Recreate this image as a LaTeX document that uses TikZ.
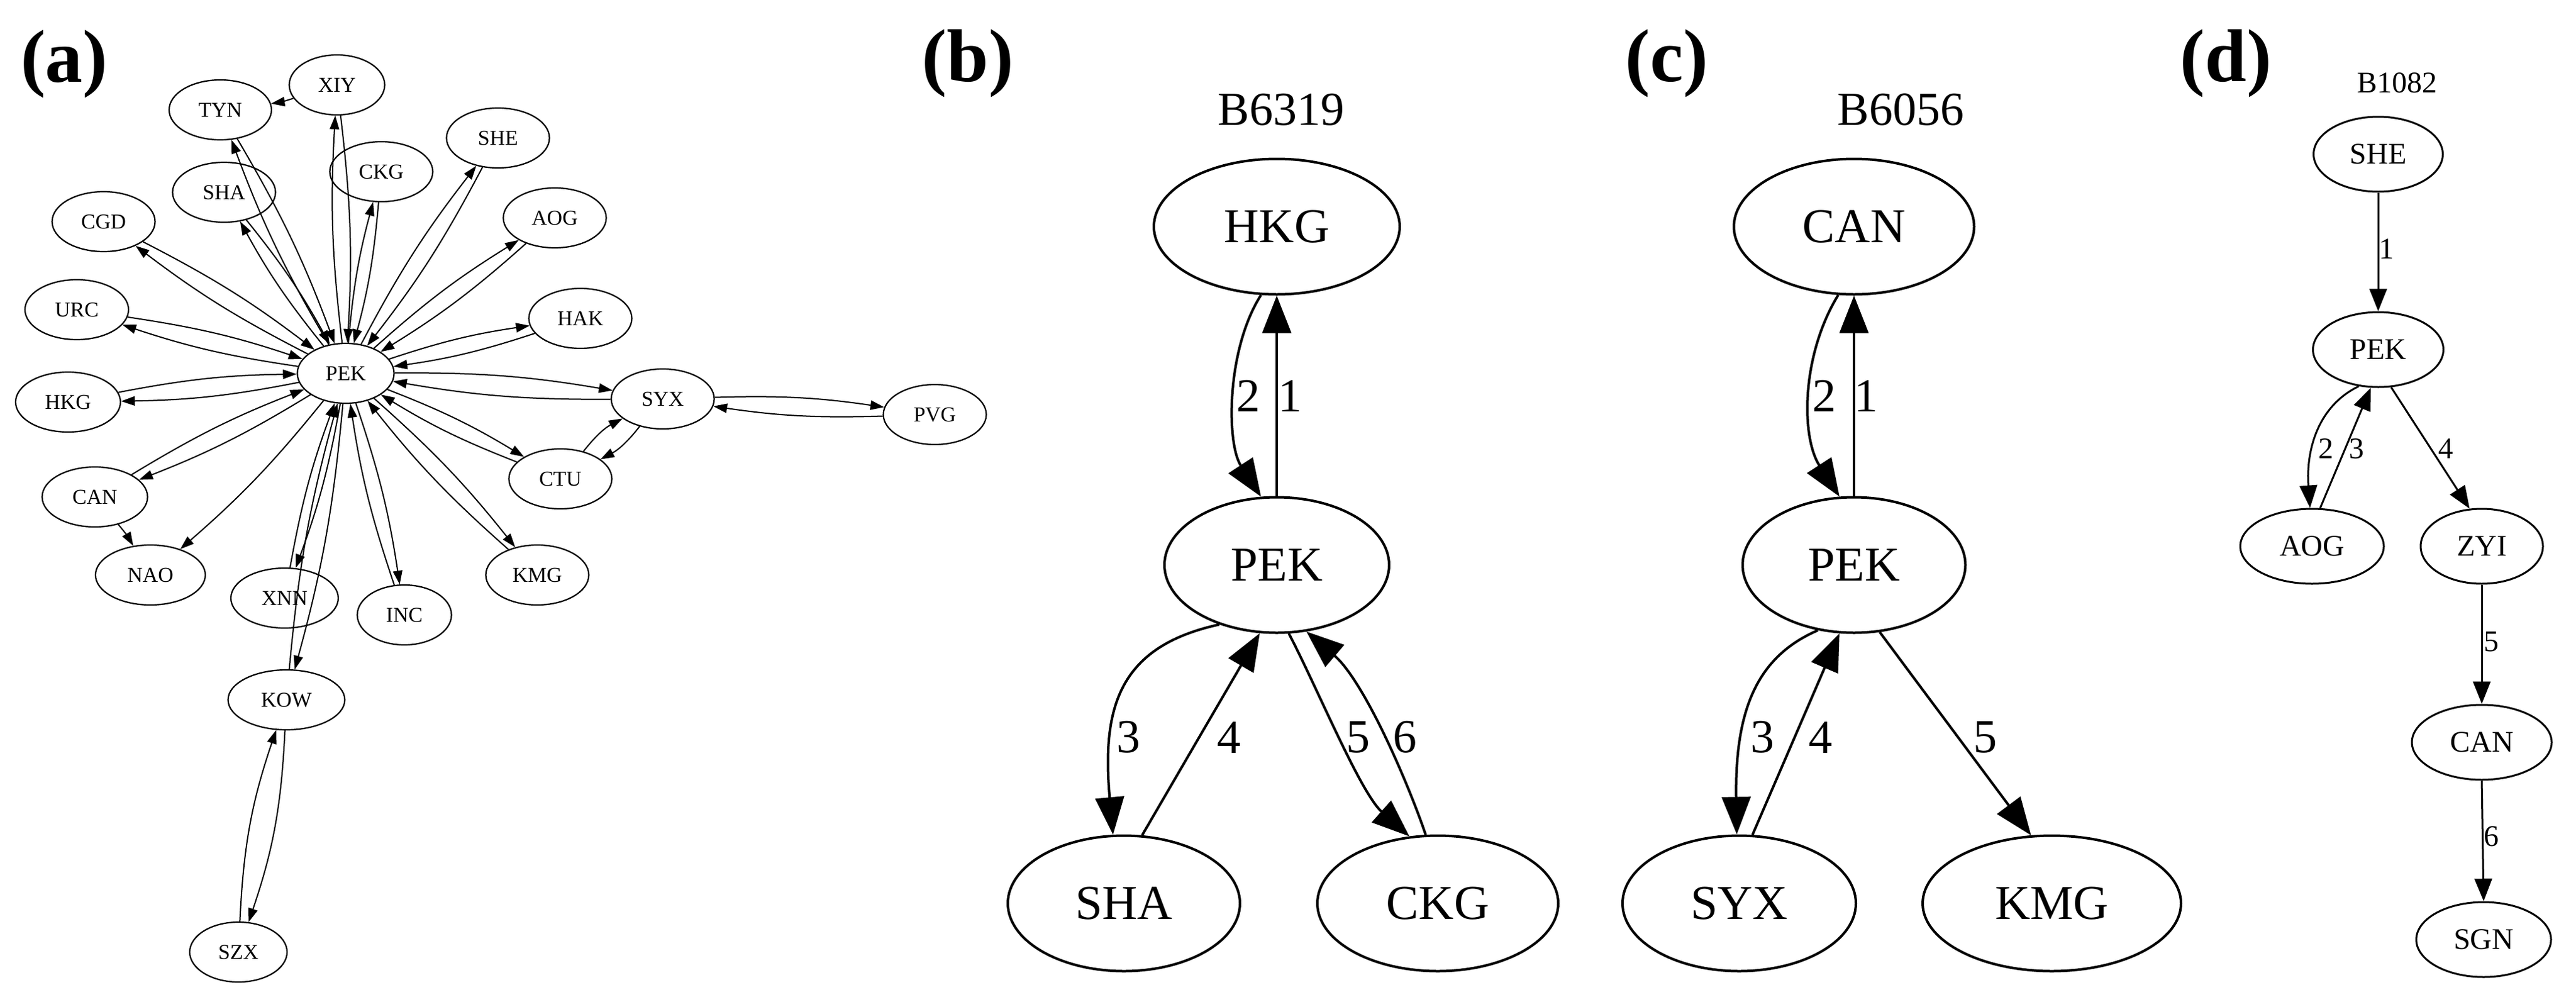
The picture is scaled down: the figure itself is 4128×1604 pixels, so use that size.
\documentclass[tikz,border=0pt]{standalone}
\usepackage{fontspec}
\setmainfont{Liberation Serif}
\usetikzlibrary{shapes.geometric,arrows.meta}
\begin{document}
\begin{tikzpicture}[x=1pt,y=-1pt,
  an/.style={ellipse,draw,line width=2.2pt,minimum width=165pt,minimum height=96pt,inner sep=0pt,font=\fontsize{34}{40}\selectfont},
  ae/.style={line width=2pt,-{Triangle[length=22pt,width=15pt]},bend left=5},
  bn/.style={ellipse,draw,line width=4pt,minimum height=217pt,inner sep=0pt,font=\fontsize{78}{90}\selectfont},
  be/.style={line width=4pt,-{Triangle[length=60pt,width=46pt]}},
  bl/.style={font=\fontsize{76}{90}\selectfont,inner sep=0pt},
  dn/.style={ellipse,draw,line width=3pt,minimum height=120pt,inner sep=0pt,font=\fontsize{48}{56}\selectfont},
  de/.style={line width=3pt,-{Triangle[length=36pt,width=28pt]}},
  dl/.style={font=\fontsize{48}{56}\selectfont,inner sep=0pt},
  pl/.style={font=\fontsize{120}{140}\selectfont\bfseries,inner sep=0pt},
]
\useasboundingbox[fill=white] (0,0) rectangle (4128,1604);

% ---------------- panel labels
\node[pl] (la) at (103,103) {(a)};
\node[pl] (lb) at (1551,102) {(b)};
\node[pl] (lc) at (2671,102) {(c)};
\node[pl] (ld) at (3567,102) {(d)};

% ---------------- panel (a)
\node[an,minimum width=153pt] (XIY) at (540,136) {XIY};
\node[an,minimum width=164pt] (TYN) at (353,176) {TYN};
\node[an] (SHE) at (798,221) {SHE};
\node[an] (CKG) at (611,275) {CKG};
\node[an] (SHA) at (359,308) {SHA};
\node[an] (CGD) at (166,355) {CGD};
\node[an] (AOG) at (889,349) {AOG};
\node[an,minimum width=166pt] (URC) at (123,496) {URC};
\node[an] (HAK) at (930,510) {HAK};
\node[an,minimum width=155pt] (PEK) at (554,598) {PEK};
\node[an] (SYX) at (1062,639) {SYX};
\node[an] (PVG) at (1498,664) {PVG};
\node[an,minimum width=168pt] (HKG) at (109,644) {HKG};
\node[an] (CTU) at (898,767) {CTU};
\node[an] (KMG) at (861,921) {KMG};
\node[an,minimum width=169pt] (CAN) at (152,796) {CAN};
\node[an,minimum width=176pt] (NAO) at (241,921) {NAO};
\node[an,minimum width=172pt] (XNN) at (456,958) {XNN};
\node[an,minimum width=151pt] (INC) at (648,985) {INC};
\node[an,minimum width=187pt] (KOW) at (459,1121) {KOW};
\node[an,minimum width=156pt] (SZX) at (382,1525) {SZX};

\foreach \n in {XIY,TYN,SHA,CKG,SHE,AOG,CGD,URC,HKG,HAK,SYX,CTU,KMG,INC,CAN,XNN,KOW}{
  \draw[ae] (PEK) to (\n);
  \draw[ae] (\n) to (PEK);
}
\draw[ae] (XIY) to (TYN);
\draw[ae] (PEK) to (NAO);
\draw[ae] (CAN) to (NAO);
\draw[ae,bend left=8] (KOW) to (SZX);
\draw[ae,bend left=8] (SZX) to (KOW);
\draw[ae] (SYX) to (PVG);
\draw[ae] (PVG) to (SYX);
\draw[ae,bend left=12] (SYX) to (CTU);
\draw[ae,bend left=12] (CTU) to (SYX);

% ---------------- panel (b)
\node[bl] (tb) at (2053,176) {B6319};
\node[bn,minimum width=394pt] (HKGb) at (2046,363) {HKG};
\node[bn,minimum width=360pt] (PEKb) at (2046,905) {PEK};
\node[bn,minimum width=372pt] (SHAb) at (1801,1447) {SHA};
\node[bn,minimum width=386pt] (CKGb) at (2304,1447) {CKG};

\draw[be] (PEKb.north) -- (HKGb.south);
\draw[be] (HKGb.257) .. controls (1965,560) and (1965,710) .. (PEKb.103);
\draw[be] (PEKb.226) .. controls (1795,1035) and (1765,1130) .. (SHAb.99);
\draw[be] (SHAb.75) -- (PEKb.256);
\draw[be] (PEKb.280) .. controls (2110,1100) and (2180,1270) .. (CKGb.113);
\draw[be] (CKGb.100) .. controls (2255,1250) and (2185,1090) .. (PEKb.294);

\node[bl] (b1) at (2067,634) {1};
\node[bl] (b2) at (2000,634) {2};
\node[bl] (b3) at (1808,1181) {3};
\node[bl] (b4) at (1969,1181) {4};
\node[bl] (b5) at (2176,1181) {5};
\node[bl] (b6) at (2251,1181) {6};

% ---------------- panel (c)
\node[bl] (tc) at (3046,176) {B6056};
\node[bn,minimum width=385pt] (CANc) at (2971,363) {CAN};
\node[bn,minimum width=357pt] (PEKc) at (2971,905) {PEK};
\node[bn,minimum width=374pt] (SYXc) at (2787,1447) {SYX};
\node[bn,minimum width=414pt] (KMGc) at (3288,1447) {KMG};

\draw[be] (PEKc.north) -- (CANc.south);
\draw[be] (CANc.257) .. controls (2886,570) and (2886,700) .. (PEKc.102);
\draw[be] (PEKc.241) .. controls (2820,1050) and (2780,1130) .. (SYXc.92);
\draw[be] (SYXc.79) -- (PEKc.258);
\draw[be] (PEKc.291) -- (KMGc.107);

\node[bl] (c1) at (2990,634) {1};
\node[bl] (c2) at (2923,634) {2};
\node[bl] (c3) at (2824,1181) {3};
\node[bl] (c4) at (2917,1181) {4};
\node[bl] (c5) at (3181,1181) {5};

% ---------------- panel (d)
\node[dl] (td) at (3841,133) {B1082};
\node[dn,minimum width=207pt] (SHEd) at (3811,247) {SHE};
\node[dn,minimum width=209pt] (PEKd) at (3811,560) {PEK};
\node[dn,minimum width=230pt] (AOGd) at (3705,875) {AOG};
\node[dn,minimum width=196pt] (ZYId) at (3977,875) {ZYI};
\node[dn,minimum width=224pt] (CANd) at (3977,1189) {CAN};
\node[dn,minimum width=216pt] (SGNd) at (3980,1505) {SGN};

\draw[de] (SHEd.south) -- (PEKd.north);
\draw[de] (PEKd.242) .. controls (3715,650) and (3695,720) .. (AOGd.93);
\draw[de] (AOGd.78) -- (PEKd.259);
\draw[de] (PEKd.289) -- (ZYId.108);
\draw[de] (ZYId.south) -- (CANd.north);
\draw[de] (CANd.south) -- (SGNd.north);

\node[dl] (d1) at (3824,399) {1};
\node[dl] (d2) at (3727,719) {2};
\node[dl] (d3) at (3776,719) {3};
\node[dl] (d4) at (3919,719) {4};
\node[dl] (d5) at (3992,1028) {5};
\node[dl] (d6) at (3992,1340) {6};
\end{tikzpicture}
\end{document}
